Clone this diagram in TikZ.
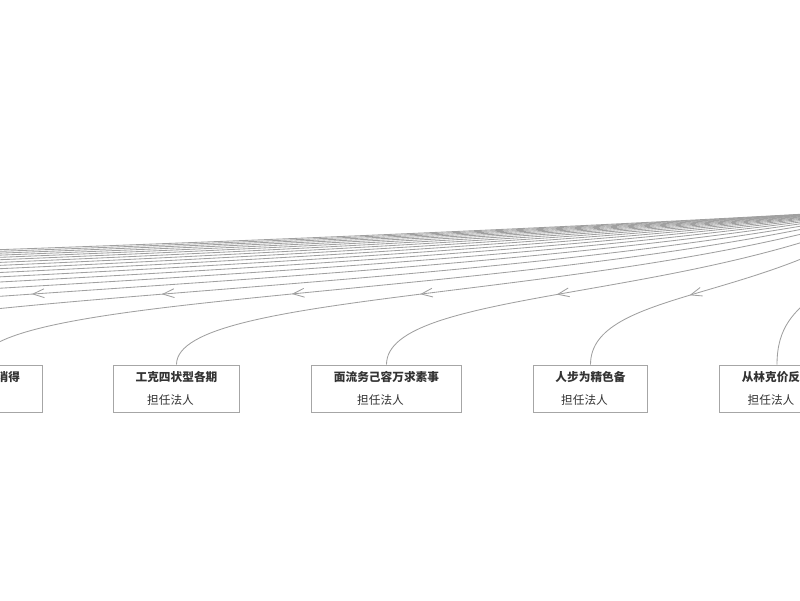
\documentclass[tikz,border=0pt]{standalone}
\usepackage{fontspec}
\newfontfamily\cjk{Noto Sans CJK SC}
\usetikzlibrary{calc}
\definecolor{edgegray}{HTML}{A0A0A0}
\definecolor{boxgray}{HTML}{A6A6A6}
\definecolor{inkgray}{HTML}{333333}
\tikzset{
  corp/.style={draw=boxgray, line width=0.7pt, minimum height=1.175cm,
    inner xsep=0.55cm, inner ysep=0pt, align=center, text=inkgray,
    font=\cjk\fontsize{8.3}{16.3}\selectfont},
  fan/.style={to path={.. controls ($(\tikztostart)+(0,-75)$)
      and ($(\tikztostart)!0.6!(\tikztotarget)+(0,30.3)$) .. (\tikztotarget)
      node[pos=0.5, sloped, anchor=center, inner sep=0pt]
        {\tikz\draw[edgegray, line width=0.6pt] (0.28cm,0.11cm) -- (0,0) -- (0.28cm,-0.11cm);}}}
}
\begin{document}
\begin{tikzpicture}[x=0.025cm, y=-0.025cm]
  \useasboundingbox (0,0) rectangle (800,600);
  \clip (0,0) rectangle (800,600);
  \coordinate (root) at (892,209);
  \draw
    (-21,388.5) node[corp] (c1){\makebox[2.05cm][r]{\bfseries 消得}\\担任法人\kern0.3cm}
    (176.5,388.5) node[corp] (c2){{\bfseries 工克四状型各期}\\担任法人\kern0.3cm}
    (386.5,388.5) node[corp] (c3){{\bfseries 面流务己容万求素事}\\担任法人\kern0.3cm}
    (590.5,388.5) node[corp] (c4){{\bfseries 人步为精色备}\\担任法人\kern0.3cm}
    (777,388.5) node[corp] (c5){\makebox[1.76cm][l]{\bfseries 从林克价反}\\担任法人\kern0.3cm};
  % companies further left, outside the frame
  \path
    (-221,365) coordinate (t1)
    (-421,365) coordinate (t2)
    (-621,365) coordinate (t3)
    (-821,365) coordinate (t4)
    (-1021,365) coordinate (t5)
    (-1221,365) coordinate (t6)
    (-1421,365) coordinate (t7)
    (-1621,365) coordinate (t8)
    (-1821,365) coordinate (t9)
    (-2021,365) coordinate (t10)
    (-2221,365) coordinate (t11)
    (-2421,365) coordinate (t12)
    (-2621,365) coordinate (t13)
    (-2821,365) coordinate (t14)
    (-3021,365) coordinate (t15);
  \begin{scope}[fan, edgegray, line width=0.6pt]
    \draw (t15) to (root);
    \draw (t14) to (root);
    \draw (t13) to (root);
    \draw (t12) to (root);
    \draw (t11) to (root);
    \draw (t10) to (root);
    \draw (t9) to (root);
    \draw (t8) to (root);
    \draw (t7) to (root);
    \draw (t6) to (root);
    \draw (t5) to (root);
    \draw (t4) to (root);
    \draw (t3) to (root);
    \draw (t2) to (root);
    \draw (t1) to (root);
    \draw (c1.north) to (root);
    \draw (c2.north) to (root);
    \draw (c3.north) to (root);
    \draw (c4.north) to (root);
    \draw (c5.north) to (root);
  \end{scope}
\end{tikzpicture}
\end{document}
